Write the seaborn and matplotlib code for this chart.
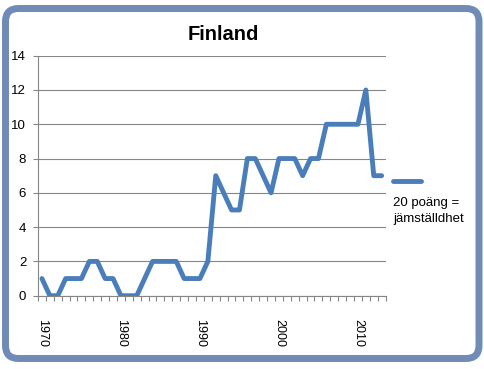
import numpy as np
import matplotlib
matplotlib.use("Agg")
import matplotlib.pyplot as plt
from matplotlib.patches import FancyBboxPatch
from matplotlib.lines import Line2D
from matplotlib.transforms import IdentityTransform
import seaborn as sns

sns.set_style("white")
plt.rcParams['font.family'] = ['Liberation Sans', 'DejaVu Sans']
plt.rcParams['text.color'] = 'black'
plt.rcParams['xtick.color'] = 'black'
plt.rcParams['ytick.color'] = 'black'

# data
years = list(range(1970, 2014))
points = [1, 0, 0, 1, 1, 1, 2, 2, 1, 1,
          0, 0, 0, 1, 2, 2, 2, 2, 1, 1,
          1, 2, 7, 6, 5, 5, 8, 8, 7, 6,
          8, 8, 8, 7, 8, 8, 10, 10, 10, 10,
          10, 12, 7, 7]
year_labels = [1970, 1980, 1990, 2000, 2010]
series_name = "20 poäng =\njämställdhet"
title = "Finland"

blue = "#4a7ebb"
grey = "#868686"

fig = plt.figure(figsize=(4.84, 3.69), dpi=100)
ax = fig.add_axes([38/484, 1-295.7/369, (385.6-38)/484, (295.7-55.7)/369])

sns.lineplot(x=years, y=points, ax=ax, color=blue, linewidth=3.5,
             solid_capstyle='round', solid_joinstyle='round')

ax.set_xlim(1969.5, 2013.5)
ax.set_ylim(0, 14)
ax.set_yticks(range(0, 15, 2))
ax.yaxis.grid(True, color=grey, linewidth=0.8)
ax.set_axisbelow(True)

ax.set_xticks(year_labels)
ax.set_xticklabels([str(y) for y in year_labels], rotation=270, fontsize=9)
ax.set_xticks(np.arange(1969.5, 2014, 1), minor=True)
ax.tick_params(axis='x', which='major', length=0, pad=17, colors='black')
ax.tick_params(axis='x', which='minor', length=3.5, color=grey, width=0.8,
               direction='out', bottom=True)
ax.tick_params(axis='y', length=3.5, color=grey, width=0.8, direction='out',
               left=True, labelsize=9.5, labelcolor='black', pad=5)

for s in ['top', 'right']:
    ax.spines[s].set_visible(False)
for s in ['left', 'bottom']:
    ax.spines[s].set_color(grey)
    ax.spines[s].set_linewidth(0.8)

fig.text(223/484, 1-35/369, title, ha='center', va='center',
         fontsize=14.5, fontweight='bold', color='black')

# legend entry
fig.add_artist(Line2D([393/484, 421/484], [1-181/369, 1-181/369],
                      transform=fig.transFigure, color=blue, linewidth=3.5,
                      solid_capstyle='round'))
fig.text(393/484, 1-197/369, series_name, ha='left', va='top', fontsize=9.5,
         linespacing=1.4, color='black')

# rounded frame
frame = FancyBboxPatch((5.5, 10.5), 479-5.5, 360.5-10.5,
                       boxstyle="round,pad=0,rounding_size=13",
                       transform=IdentityTransform(), fill=False,
                       edgecolor="#6f8bb6", linewidth=5)
fig.add_artist(frame)

fig.savefig("out.png", dpi=100)
